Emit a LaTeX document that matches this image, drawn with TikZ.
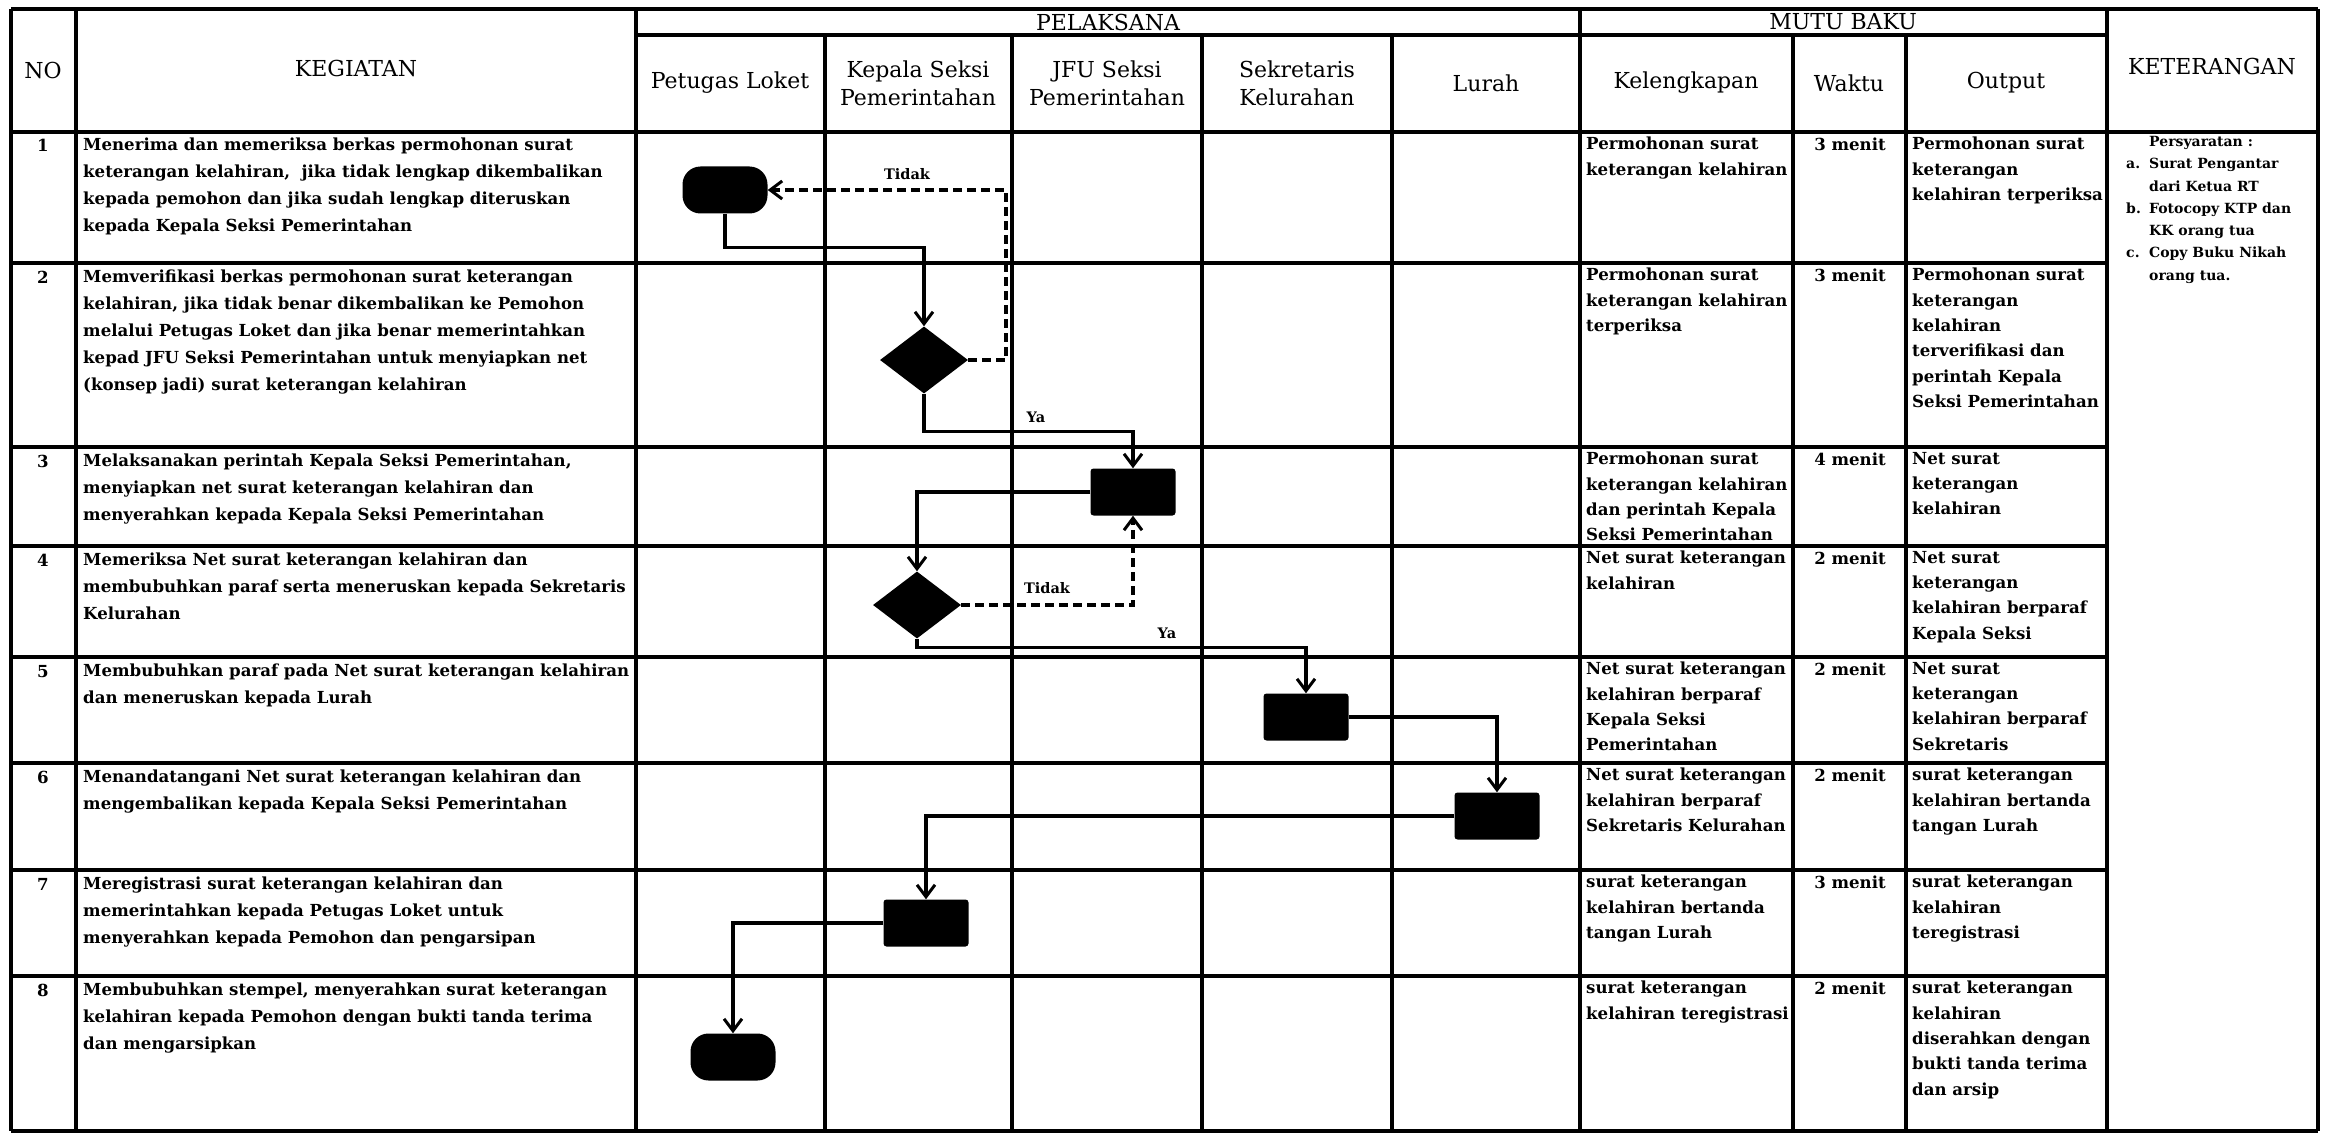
\documentclass[tikz,border=0pt]{standalone}
\usepackage{fontspec}
\setmainfont{DejaVu Serif}
\usetikzlibrary{shapes.geometric,arrows.meta}
\newcommand\tstrut{\rule{0pt}{13pt}}
\begin{document}
\begin{tikzpicture}[x=1pt,y=-1pt,
  vline/.style={line width=3.1pt},
  hline/.style={line width=3.8pt},
  hd/.style={font=\fontsize{22}{28}\selectfont, align=center, inner sep=0pt},
  body/.style={font=\fontsize{16.6}{25.3}\bfseries\selectfont, align=left, inner sep=0pt, anchor=north west, execute at begin node=\tstrut},
  kbody/.style={body, font=\fontsize{16.6}{26.8}\bfseries\selectfont},
  num/.style={font=\fontsize{16.6}{25.3}\bfseries\selectfont, inner sep=0pt, anchor=north, execute at begin node=\tstrut},
  ketst/.style={font=\fontsize{14}{22.3}\bfseries\selectfont, align=left, inner sep=0pt, anchor=north west, execute at begin node=\rule{0pt}{11pt}},
  lbl/.style={font=\fontsize{14.5}{16}\bfseries\selectfont, inner sep=0pt},
  term/.style={fill=black, rounded corners=18pt, minimum width=85pt, minimum height=47pt, inner sep=0pt},
  proc/.style={fill=black, rounded corners=3pt, minimum width=85pt, minimum height=47pt, inner sep=0pt},
  dec/.style={diamond, fill=black, minimum width=88pt, minimum height=67pt, inner sep=0pt},
  flow/.style={line width=3.3pt, -{Straight Barb[length=12pt,width=18pt,line width=3pt]}},
  dflow/.style={flow, dash pattern=on 9pt off 5pt}
]
\fill[white] (0,0) rectangle (2332,1134);
\useasboundingbox (0,0) rectangle (2332,1134);

% ---------- grid ----------
\draw[hline] (11,9) -- (2318,9);
\draw[hline] (11,1131) -- (2318,1131);
\draw[hline] (636,35) -- (2107,35);
\draw[hline] (11,132) -- (2318,132);
\foreach \yy in {263,447,546,657,763,870,976}
  \draw[hline] (11,\yy) -- (2107,\yy);
\foreach \xx in {11,76,636,1580,2107,2318}
  \draw[vline] (\xx,9) -- (\xx,1131);
\foreach \xx in {825,1012,1202,1392,1793,1906}
  \draw[vline] (\xx,35) -- (\xx,1131);

% ---------- headers ----------
\node[hd] (hno) at (43,70) {NO};
\node[hd] (hkeg) at (356,68) {KEGIATAN};
\node[hd] (hpel) at (1108,22) {PELAKSANA};
\node[hd] (hmutu) at (1843,22) {MUTU BAKU};
\node[hd] (hket) at (2212,66) {KETERANGAN};
\node[hd] (hpet) at (730,83) {Petugas Loket};
\node[hd] (hkep) at (918,83) {Kepala Seksi\\Pemerintahan};
\node[hd] (hjfu) at (1107,83) {JFU Seksi\\Pemerintahan};
\node[hd] (hsek) at (1297,83) {Sekretaris\\Kelurahan};
\node[hd] (hlur) at (1486,83) {Lurah};
\node[hd] (hkel) at (1686,83) {Kelengkapan};
\node[hd] (hwak) at (1849,83) {Waktu};
\node[hd] (hout) at (2006,83) {Output};

% ---------- NO ----------
\node[num] (n1) at (43,138) {1};
\node[num] (n2) at (43,270) {2};
\node[num] (n3) at (43,454) {3};
\node[num] (n4) at (43,553) {4};
\node[num] (n5) at (43,664) {5};
\node[num] (n6) at (43,770) {6};
\node[num] (n7) at (43,877) {7};
\node[num] (n8) at (43,983) {8};

% ---------- KEGIATAN ----------
\node[kbody] (k1) at (83,138) {Menerima dan memeriksa berkas permohonan surat\\keterangan kelahiran,\ \ jika tidak lengkap dikembalikan\\kepada pemohon dan jika sudah lengkap diteruskan\\kepada Kepala Seksi Pemerintahan};
\node[kbody] (k2) at (83,270) {Memverifikasi berkas permohonan surat keterangan\\kelahiran, jika tidak benar dikembalikan ke Pemohon\\melalui Petugas Loket dan jika benar memerintahkan\\kepad JFU Seksi Pemerintahan untuk menyiapkan net\\(konsep jadi) surat keterangan kelahiran};
\node[kbody] (k3) at (83,454) {Melaksanakan perintah Kepala Seksi Pemerintahan,\\menyiapkan net surat keterangan kelahiran dan\\menyerahkan kepada Kepala Seksi Pemerintahan};
\node[kbody] (k4) at (83,553) {Memeriksa Net surat keterangan kelahiran dan\\membubuhkan paraf serta meneruskan kepada Sekretaris\\Kelurahan};
\node[kbody] (k5) at (83,664) {Membubuhkan paraf pada Net surat keterangan kelahiran\\dan meneruskan kepada Lurah};
\node[kbody] (k6) at (83,770) {Menandatangani Net surat keterangan kelahiran dan\\mengembalikan kepada Kepala Seksi Pemerintahan};
\node[kbody] (k7) at (83,877) {Meregistrasi surat keterangan kelahiran dan\\memerintahkan kepada Petugas Loket untuk\\menyerahkan kepada Pemohon dan pengarsipan};
\node[kbody] (k8) at (83,983) {Membubuhkan stempel, menyerahkan surat keterangan\\kelahiran kepada Pemohon dengan bukti tanda terima\\dan mengarsipkan};

% ---------- Kelengkapan ----------
\node[body] (l1) at (1586,137) {Permohonan surat\\keterangan kelahiran};
\node[body] (l2) at (1586,268) {Permohonan surat\\keterangan kelahiran\\terperiksa};
\node[body] (l3) at (1586,452) {Permohonan surat\\keterangan kelahiran\\dan perintah Kepala\\Seksi Pemerintahan};
\node[body] (l4) at (1586,551) {Net surat keterangan\\kelahiran};
\node[body] (l5) at (1586,662) {Net surat keterangan\\kelahiran berparaf\\Kepala Seksi\\Pemerintahan};
\node[body] (l6) at (1586,768) {Net surat keterangan\\kelahiran berparaf\\Sekretaris Kelurahan};
\node[body] (l7) at (1586,875) {surat keterangan\\kelahiran bertanda\\tangan Lurah};
\node[body] (l8) at (1586,981) {surat keterangan\\kelahiran teregistrasi};

% ---------- Waktu ----------
\node[num] (w1) at (1850,137) {3 menit};
\node[num] (w2) at (1850,268) {3 menit};
\node[num] (w3) at (1850,452) {4 menit};
\node[num] (w4) at (1850,551) {2 menit};
\node[num] (w5) at (1850,662) {2 menit};
\node[num] (w6) at (1850,768) {2 menit};
\node[num] (w7) at (1850,875) {3 menit};
\node[num] (w8) at (1850,981) {2 menit};

% ---------- Output ----------
\node[body] (o1) at (1912,137) {Permohonan surat\\keterangan\\kelahiran terperiksa};
\node[body] (o2) at (1912,268) {Permohonan surat\\keterangan\\kelahiran\\terverifikasi dan\\perintah Kepala\\Seksi Pemerintahan};
\node[body] (o3) at (1912,452) {Net surat\\keterangan\\kelahiran};
\node[body] (o4) at (1912,551) {Net surat\\keterangan\\kelahiran berparaf\\Kepala Seksi};
\node[body] (o5) at (1912,662) {Net surat\\keterangan\\kelahiran berparaf\\Sekretaris};
\node[body] (o6) at (1912,768) {surat keterangan\\kelahiran bertanda\\tangan Lurah};
\node[body] (o7) at (1912,875) {surat keterangan\\kelahiran\\teregistrasi};
\node[body] (o8) at (1912,981) {surat keterangan\\kelahiran\\diserahkan dengan\\bukti tanda terima\\dan arsip};

% ---------- Keterangan ----------
\node[ketst] (ket) at (2126,136) {\hspace*{23pt}Persyaratan :\\\makebox[23pt][l]{a.}Surat Pengantar\\\hspace*{23pt}dari Ketua RT\\\makebox[23pt][l]{b.}Fotocopy KTP dan\\\hspace*{23pt}KK orang tua\\\makebox[23pt][l]{c.}Copy Buku Nikah\\\hspace*{23pt}orang tua.};

% ---------- flow shapes ----------
\node[term] (T1) at (725,190) {};
\node[dec]  (D1) at (924,360) {};
\node[proc] (B1) at (1133,492) {};
\node[dec]  (D2) at (917,605) {};
\node[proc] (B2) at (1306,717) {};
\node[proc] (B3) at (1497,816) {};
\node[proc] (B4) at (926,923) {};
\node[term] (T2) at (733,1057) {};

\coordinate (c1) at (1006,360);

% ---------- connectors ----------
\draw[flow] (T1.south) -- ++(0,34) -| (D1.north);
\draw[dflow] (D1.east) -- (c1) |- (T1.east);
\draw[flow] (D1.south) -- ++(0,38) -| (B1.north);
\draw[flow] (B1.west) -| (D2.north);
\draw[dflow] (D2.east) -| (B1.south);
\draw[flow] (D2.south) -- ++(0,9) -| (B2.north);
\draw[flow] (B2.east) -| (B3.north);
\draw[flow] (B3.west) -| (B4.north);
\draw[flow] (B4.west) -| (T2.north);

% ---------- labels ----------
\node[lbl] (lt1) at (907,174) {Tidak};
\node[lbl] (ly1) at (1036,417) {Ya};
\node[lbl] (lt2) at (1047,588) {Tidak};
\node[lbl] (ly2) at (1167,633) {Ya};
\end{tikzpicture}
\end{document}
